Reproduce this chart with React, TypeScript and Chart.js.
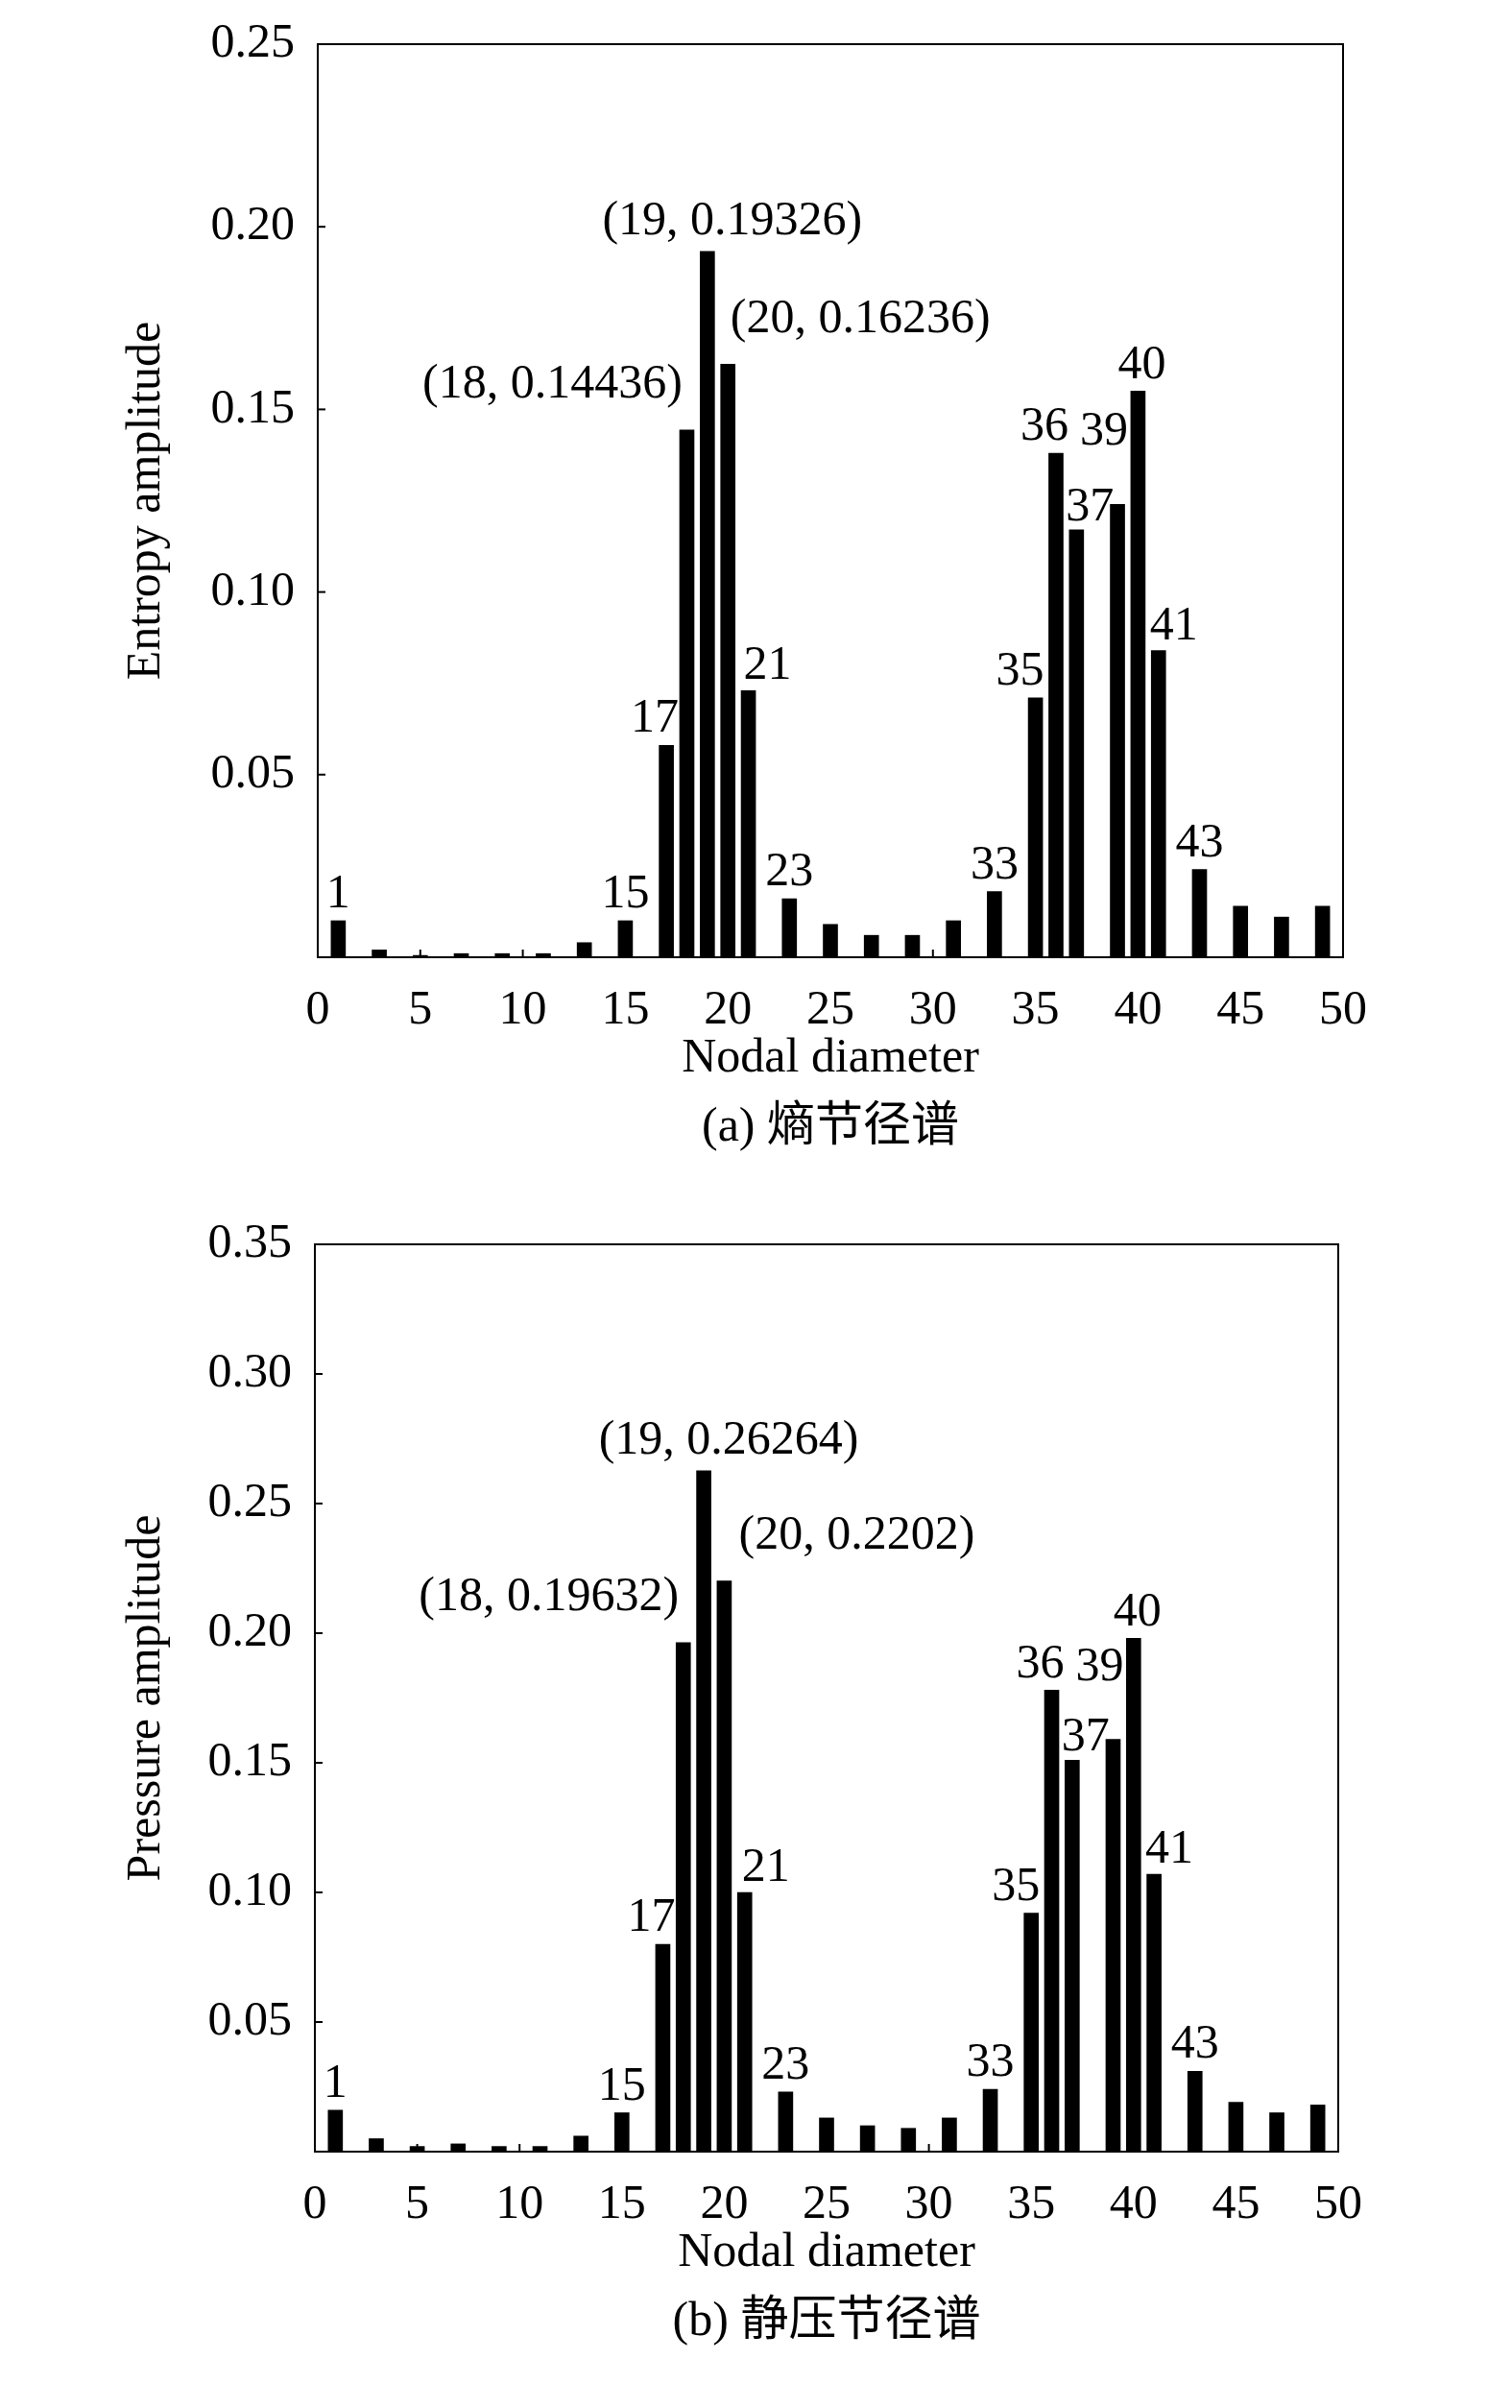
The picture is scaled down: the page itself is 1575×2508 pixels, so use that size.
import React, { useEffect, useRef } from "react";
import { Chart, registerables } from "chart.js";
Chart.register(...registerables);

const nodes = [1, 3, 5, 7, 9, 11, 13, 15, 17, 18, 19, 20, 21, 23, 25, 27, 29, 31, 33, 35, 36, 37, 39, 40, 41, 43, 45, 47, 49];
const entropy = [0.010, 0.002, 0.0005, 0.001, 0.001, 0.001, 0.004, 0.010, 0.058, 0.14436, 0.19326, 0.16236, 0.073, 0.016, 0.009, 0.006, 0.006, 0.010, 0.018, 0.071, 0.138, 0.117, 0.124, 0.155, 0.084, 0.024, 0.014, 0.011, 0.014];
const pressure = [0.016, 0.005, 0.002, 0.003, 0.002, 0.002, 0.006, 0.015, 0.080, 0.19632, 0.26264, 0.2202, 0.100, 0.023, 0.013, 0.010, 0.009, 0.013, 0.024, 0.092, 0.178, 0.151, 0.159, 0.198, 0.107, 0.031, 0.019, 0.015, 0.018];

const labelsA = ["1", "", "", "", "", "", "", "15", "17", "(18, 0.14436)", "(19, 0.19326)", "(20, 0.16236)", "21", "23", "", "", "", "", "33", "35", "36", "37", "39", "40", "41", "43", "", "", ""];
const labelsB = ["1", "", "", "", "", "", "", "15", "17", "(18, 0.19632)", "(19, 0.26264)", "(20, 0.2202)", "21", "23", "", "", "", "", "33", "35", "36", "37", "39", "40", "41", "43", "", "", ""];
// label offsets [dx, dy] in px (style)
const offA: Record<string, number[]> = { "17": [-12, -2], "18": [-140, -22], "19": [26, -6], "20": [138, -22], "21": [20, 0], "35": [-16, -2], "36": [-12, -2], "37": [14, 2], "39": [-14, -50], "40": [4, -2], "41": [16, 0] };
const offB: Record<string, number[]> = { "17": [-12, -2], "18": [-140, -22], "19": [26, -6], "20": [138, -22], "21": [22, 0], "35": [-16, -2], "36": [-12, -2], "37": [14, 2], "39": [-14, -50], "40": [4, -2], "41": [16, 0] };

const FONT = "'Liberation Serif', 'Times New Roman', serif";
const FS = 50;

function makeChart(canvas: HTMLCanvasElement, values: number[], labels: string[], offs: Record<string, number[]>, yMax: number, yTitle: string, caption: string, plotTop: number, plotBottom: number, left: number, right: number, height: number) {
  const overlay = {
    id: "overlay",
    afterDatasetsDraw(chart: any) {
      const ctx = chart.ctx;
      const a = chart.chartArea;
      const xs = chart.scales.x, ys = chart.scales.y;
      ctx.save();
      ctx.strokeStyle = "#000";
      ctx.lineWidth = 2;
      ctx.strokeRect(a.left, a.top, a.right - a.left, a.bottom - a.top);
      for (let v = 0; v <= 50; v += 5) {
        const px = xs.getPixelForValue(v);
        ctx.beginPath(); ctx.moveTo(px, a.bottom); ctx.lineTo(px, a.bottom - 8); ctx.stroke();
      }
      for (let v = 0; v <= yMax + 1e-9; v += 0.05) {
        const py = ys.getPixelForValue(v);
        ctx.beginPath(); ctx.moveTo(a.left, py); ctx.lineTo(a.left + 8, py); ctx.stroke();
      }
      ctx.fillStyle = "#000";
      ctx.font = `${FS}px ${FONT}`;
      ctx.textAlign = "center";
      ctx.textBaseline = "bottom";
      labels.forEach((t, i) => {
        if (!t) return;
        const key = String(nodes[i]);
        const o = offs[key] || [0, -2];
        ctx.fillText(t, xs.getPixelForValue(nodes[i]) + o[0], ys.getPixelForValue(values[i]) + o[1]);
      });
      ctx.textBaseline = "middle";
      ctx.fillText("Nodal diameter", (a.left + a.right) / 2, a.bottom + 106);
      ctx.font = `${FS}px ${FONT}, 'Noto Sans CJK SC'`;
      ctx.fillText(caption, (a.left + a.right) / 2, a.bottom + 178);
      ctx.save();
      ctx.translate(153, (a.top + a.bottom) / 2);
      ctx.rotate(-Math.PI / 2);
      ctx.font = `${FS}px ${FONT}`;
      ctx.fillText(yTitle, 0, 0);
      ctx.restore();
      ctx.restore();
    },
  };
  return new Chart(canvas, {
    type: "bar",
    data: {
      datasets: [{
        data: nodes.map((n, i) => ({ x: n, y: values[i] })),
        backgroundColor: "#000",
        barThickness: 15,
      }],
    },
    options: {
      animation: false,
      responsive: false,
      maintainAspectRatio: false,
      layout: { padding: { left: 0, right: right, top: plotTop, bottom: height - plotBottom - 118 } },
      plugins: { legend: { display: false }, tooltip: { enabled: false } },
      scales: {
        x: {
          type: "linear", min: 0, max: 50, offset: false,
          grid: { display: false, offset: false },
          border: { display: false },
          ticks: { stepSize: 5, color: "#000", font: { family: FONT, size: FS }, padding: 18, maxRotation: 0 },
          afterFit: (s: any) => { s.height = 118; },
        },
        y: {
          min: 0, max: yMax,
          grid: { display: false },
          border: { display: false },
          ticks: { stepSize: 0.05, color: "#000", font: { family: FONT, size: FS }, padding: 16, callback: (v: any) => (v === 0 ? "" : Number(v).toFixed(2)) },
          afterFit: (s: any) => { s.width = left; },
        },
      },
    } as any,
    plugins: [overlay],
  });
}

export default function App() {
  const r1 = useRef<HTMLCanvasElement>(null);
  const r2 = useRef<HTMLCanvasElement>(null);
  useEffect(() => {
    const c1 = makeChart(r1.current!, entropy, labelsA, offA, 0.25, "Entropy amplitude", "(a) 熵节径谱", 28, 997, 331, 176, 1250);
    const c2 = makeChart(r2.current!, pressure, labelsB, offB, 0.35, "Pressure amplitude", "(b) 静压节径谱", 18, 991, 328, 181, 1258);
    return () => { c1.destroy(); c2.destroy(); };
  }, []);
  return (
    <div style={{ position: "absolute", left: 0, top: 0, width: 1575, background: "#fff" }}>
      <canvas ref={r1} width={1575} height={1250} style={{ display: "block", width: 1575, height: 1250 }} />
      <canvas ref={r2} width={1575} height={1258} style={{ display: "block", width: 1575, height: 1258 }} />
    </div>
  );
}
